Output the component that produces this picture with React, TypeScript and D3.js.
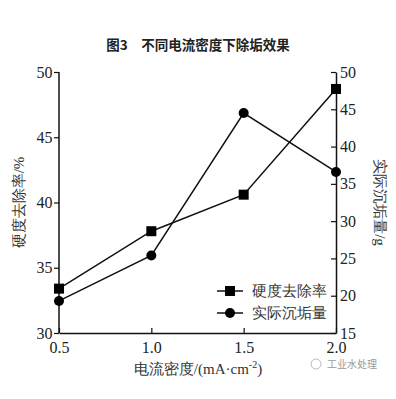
import React, { useEffect, useRef } from 'react';
import * as d3 from 'd3';

const density = [0.5, 1.0, 1.5, 2.0];
const removalRate = [33.4, 37.8, 40.6, 48.7];
const scaleMass = [19.3, 25.4, 44.5, 36.6];
const xTicks = [0.5, 1.0, 1.5, 2.0];
const leftTicks = [30, 35, 40, 45, 50];
const rightTicks = [15, 20, 25, 30, 35, 40, 45, 50];

const App = () => {
    const ref = useRef<SVGSVGElement>(null);

    useEffect(() => {
        const svg = d3.select(ref.current);
        svg.selectAll('*').remove();

        const left = 59, right = 336, top = 72, bottom = 333;
        const serif = "'Liberation Serif', 'Times New Roman', 'DejaVu Serif', serif";
        const cjk = "'Noto Sans CJK SC', sans-serif";

        svg.append('rect').attr('width', 396).attr('height', 399).attr('fill', '#fff');

        const x = d3.scaleLinear().domain([0.5, 2.0]).range([left, right]);
        const yL = d3.scaleLinear().domain([30, 50]).range([bottom, top]);
        const yR = d3.scaleLinear().domain([15, 50]).range([bottom, top]);

        // title
        svg.append('text')
            .attr('x', 198).attr('y', 50)
            .attr('text-anchor', 'middle')
            .attr('font-family', cjk)
            .attr('font-weight', 'bold')
            .attr('font-size', 13.5)
            .attr('fill', '#222')
            .text('图3\u3000不同电流密度下除垢效果');

        // axes
        const axL = svg.append('g').attr('transform', `translate(${left},0)`)
            .call(d3.axisLeft(yL).tickValues(leftTicks).tickSize(5).tickFormat(d3.format('d')));
        const axR = svg.append('g').attr('transform', `translate(${right},0)`)
            .call(d3.axisRight(yR).tickValues(rightTicks).tickSizeInner(-5).tickSizeOuter(0).tickPadding(4).tickFormat(d3.format('d')));
        const axB = svg.append('g').attr('transform', `translate(0,${bottom})`)
            .call(d3.axisBottom(x).tickValues(xTicks).tickSizeInner(-5).tickSizeOuter(0).tickPadding(6).tickFormat(d3.format('.1f')));

        [axL, axR, axB].forEach(a => {
            a.attr('font-family', serif).attr('font-size', 16);
            a.select('.domain').attr('stroke', '#111').attr('stroke-width', 1.5);
            a.selectAll('.tick line').attr('stroke', '#111').attr('stroke-width', 1.2);
            a.selectAll('.tick text')
                .style('font-family', serif)
                .attr('font-size', 16)
                .attr('fill', '#222');
        });
        axL.select('.domain').attr('d', `M0,${top}V${bottom}`);
        axB.selectAll('.tick text').attr('dy', '0.9em');
        axL.selectAll('.tick text').attr('dx', '0.1em');

        // axis titles
        svg.append('text')
            .attr('transform', `translate(24,${(top + bottom) / 2}) rotate(-90)`)
            .attr('text-anchor', 'middle')
            .style('font-family', serif)
            .attr('font-size', 15)
            .attr('fill', '#333')
            .text('硬度去除率/%');
        svg.append('text')
            .attr('transform', `translate(375,${(top + bottom) / 2}) rotate(90)`)
            .attr('text-anchor', 'middle')
            .style('font-family', serif)
            .attr('font-size', 15)
            .attr('fill', '#333')
            .text('实际沉垢量/g');
        const xl = svg.append('text')
            .attr('x', 198).attr('y', 374)
            .attr('text-anchor', 'middle')
            .style('font-family', serif)
            .attr('font-size', 15)
            .attr('fill', '#333');
        xl.append('tspan').text('电流密度/(mA·cm');
        xl.append('tspan').attr('dy', -6).attr('font-size', 10).text('-2');
        xl.append('tspan').attr('dy', 6).text(')');

        // series
        const lineL = d3.line<number>().x((_, i) => x(density[i])).y(d => yL(d));
        const lineR = d3.line<number>().x((_, i) => x(density[i])).y(d => yR(d));

        svg.append('path').datum(removalRate).attr('d', lineL)
            .attr('fill', 'none').attr('stroke', '#111').attr('stroke-width', 1.5);
        svg.append('path').datum(scaleMass).attr('d', lineR)
            .attr('fill', 'none').attr('stroke', '#111').attr('stroke-width', 1.5);

        const sq = 10;
        svg.selectAll('.sq').data(removalRate).enter().append('rect')
            .attr('x', (_, i) => x(density[i]) - sq / 2)
            .attr('y', d => yL(d) - sq / 2)
            .attr('width', sq).attr('height', sq)
            .attr('fill', '#000');
        svg.selectAll('.dot').data(scaleMass).enter().append('circle')
            .attr('cx', (_, i) => x(density[i]))
            .attr('cy', d => yR(d))
            .attr('r', 5)
            .attr('fill', '#000');

        // legend
        const lg = svg.append('g');
        const items = ['硬度去除率', '实际沉垢量'];
        items.forEach((name, i) => {
            const ly = 291 + i * 22;
            lg.append('line').attr('x1', 217).attr('x2', 243).attr('y1', ly).attr('y2', ly)
                .attr('stroke', '#111').attr('stroke-width', 1.5);
            if (i === 0) {
                lg.append('rect').attr('x', 230 - sq / 2).attr('y', ly - sq / 2)
                    .attr('width', sq).attr('height', sq).attr('fill', '#000');
            } else {
                lg.append('circle').attr('cx', 230).attr('cy', ly).attr('r', 5).attr('fill', '#000');
            }
            lg.append('text').attr('x', 252).attr('y', ly + 5)
                .style('font-family', serif).attr('font-size', 15).attr('fill', '#333')
                .text(name);
        });

        // watermark
        svg.append('circle').attr('cx', 316).attr('cy', 364).attr('r', 5)
            .attr('fill', 'none').attr('stroke', '#bbb').attr('stroke-width', 1);
        svg.append('text').attr('x', 327).attr('y', 368)
            .style('font-family', cjk).attr('font-size', 10).attr('fill', '#999')
            .text('工业水处理');
    }, []);

    return <svg ref={ref} width={396} height={399} style={{ position: 'absolute', left: 0, top: 0 }} />;
};

export default App;
